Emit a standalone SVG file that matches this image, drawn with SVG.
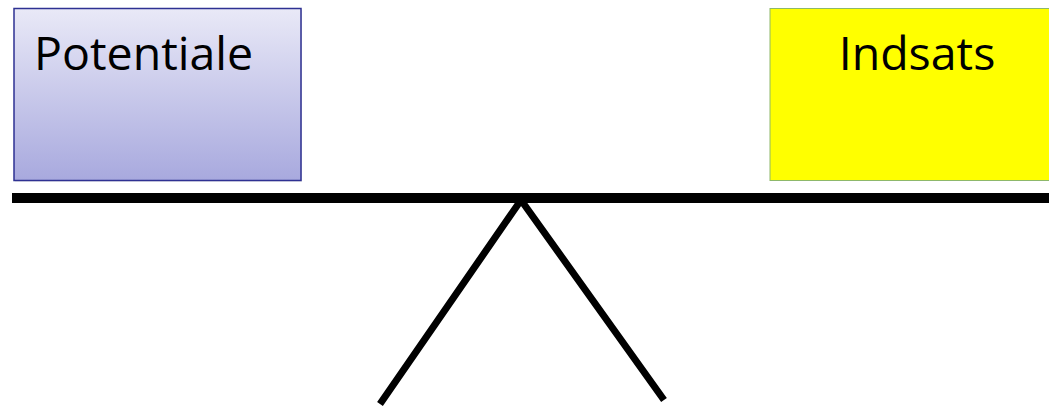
<svg xmlns="http://www.w3.org/2000/svg" width="1049" height="408" viewBox="0 0 1049 408">
<style>
.lbl{font-family:"Open Sans","Noto Sans",sans-serif;font-size:46.5px;fill:#000}
.bar{stroke:#000;stroke-linecap:butt;fill:none}
</style>
<defs>
<linearGradient id="g1" x1="0" y1="0" x2="0" y2="1">
<stop offset="0" stop-color="#E9E9F7"/>
<stop offset="1" stop-color="#A8A9DE"/>
</linearGradient>
</defs>
<rect width="1049" height="408" fill="#fff"/>
<g id="potentiale">
<rect x="15" y="9.5" width="287" height="172" fill="#000" fill-opacity="0.12"/>
<rect x="14" y="8.5" width="287" height="172" fill="url(#g1)" stroke="#2E3192" stroke-width="1.5"/>
<text class="lbl" x="34" y="70">Potentiale</text>
</g>
<g id="indsats">
<rect x="770" y="8.5" width="300" height="172" fill="#FFFF00" stroke="#8DB86B" stroke-width="1"/>
<text class="lbl" x="917" y="70" text-anchor="middle">Indsats</text>
</g>
<g id="connectors">
<line class="bar" x1="12" y1="198" x2="1049" y2="198" stroke-width="10"/>
<polyline class="bar" points="380,404 521,200 664,400" stroke-width="7" stroke-linejoin="miter"/>
</g>
</svg>
